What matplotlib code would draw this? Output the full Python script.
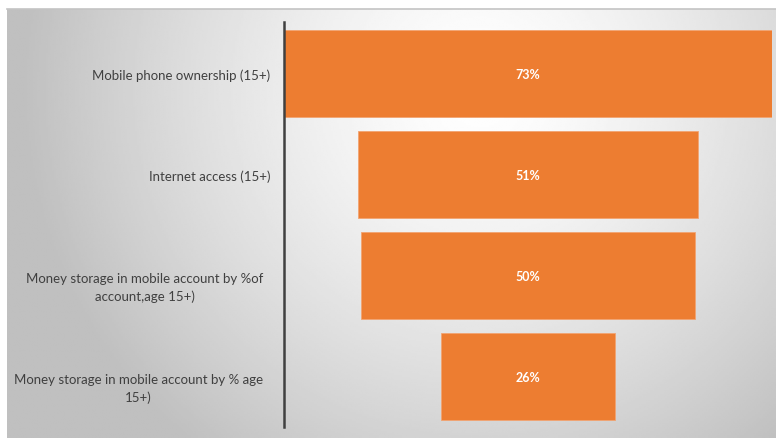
import numpy as np
import matplotlib
matplotlib.use("Agg")
import matplotlib.pyplot as plt
import matplotlib.transforms as mtransforms

# funnel stages and shares (%)
categories = [
    "Mobile phone ownership (15+)",
    "Internet access (15+)",
    "Money storage in mobile account by %of\naccount,age 15+)",
    "Money storage in mobile account by % age\n15+)",
]
values = [73, 51, 50, 26]
value_labels = ["73%", "51%", "50%", "26%"]

plt.rcParams['font.family'] = ['Lato', 'DejaVu Sans']

W, H = 776, 439
fig = plt.figure(figsize=(W / 100, H / 100), dpi=100)
fig.patch.set_facecolor('white')

# radial grey background of the chart area
bg = fig.add_axes([7 / W, 0, (W - 7) / W, (H - 10) / H])
gx, gy = np.meshgrid(np.linspace(7, W, 400), np.linspace(10, H, 220))
d = np.hypot(gx - 480, gy - 90) / 460
shade = 1.0 - 0.25 * np.clip(d, 0, 1) ** 1.4
bg.imshow(shade, cmap='gray', vmin=0, vmax=1, aspect='auto',
          extent=[0, 1, 0, 1], interpolation='bilinear')
bg.set_xticks([])
bg.set_yticks([])
for side in ['left', 'right', 'bottom']:
    bg.spines[side].set_visible(False)
bg.spines['top'].set_color('#c4c4c4')
bg.spines['top'].set_linewidth(1.2)

ax = fig.add_axes([284 / W, 1 - 428 / H, (772 - 284) / W, (428 - 23) / H])
ax.patch.set_alpha(0)

y = np.arange(len(values))
left = [-v / 2 for v in values]
ax.barh(y, values, left=left, height=0.86, color='#ED7D31',
        edgecolor='#f2a472', linewidth=0.6)

for yi, lab in zip(y, value_labels):
    ax.text(0, yi, lab, ha='center', va='center', color='white',
            fontsize=9, fontweight='bold')

ax.set_xlim(-36.5, 36.5)
ax.set_ylim(3.5, -0.51)
ax.set_xticks([])
ax.set_yticks(y)
ax.set_yticklabels(categories, fontsize=9.5, color='#404040',
                   multialignment='center', linespacing=1.45)
ax.tick_params(axis='y', length=0, pad=10)

# wrapped labels sit a little lower and further left, as in the original
shift = mtransforms.ScaledTranslation(-7 / 100, -8 / 100, fig.dpi_scale_trans)
for lbl in ax.get_yticklabels():
    if "\n" in lbl.get_text():
        lbl.set_transform(lbl.get_transform() + shift)

for side in ['top', 'right', 'bottom']:
    ax.spines[side].set_visible(False)
ax.spines['left'].set_color('#404040')
ax.spines['left'].set_linewidth(1.8)

fig.savefig('out.png', dpi=100)
